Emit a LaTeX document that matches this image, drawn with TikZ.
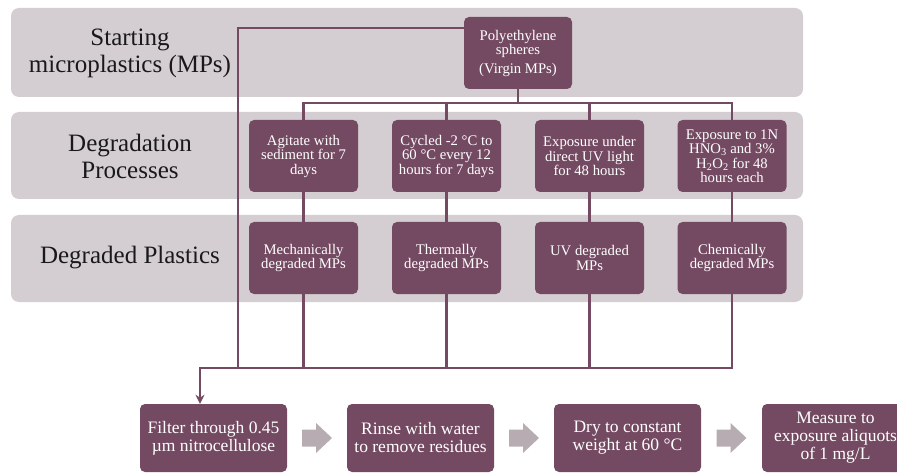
\documentclass[tikz,border=0pt]{standalone}
\usepackage{fontspec}
\setmainfont{Liberation Serif}
\usetikzlibrary{arrows.meta,calc}
\definecolor{plum}{HTML}{744A62}
\definecolor{bandgrey}{HTML}{D4CED2}
\definecolor{arrowgrey}{HTML}{B7ACB2}
\begin{document}
\begin{tikzpicture}[
    x=1pt, y=-1pt,
    band/.style={fill=bandgrey,rounded corners=8pt},
    rowlabel/.style={align=center,text=black!90,font=\fontsize{25}{27}\selectfont},
    box/.style={fill=plum,rounded corners=5pt,align=center,text=white,inner sep=2pt,
        minimum width=109pt,minimum height=72pt,font=\fontsize{14.7}{14.5}\selectfont},
    stepbox/.style={box,minimum width=147pt,minimum height=68pt,font=\fontsize{17.5}{18}\selectfont},
    link/.style={draw=plum,line width=2.2pt},
    >={Stealth[length=9pt,width=9pt]}
]
\useasboundingbox (0,0) rectangle (897,473);
\clip (0,0) rectangle (897,473);

% row bands
\fill[band] (11,8) rectangle (803,97);
\fill[band] (11,112) rectangle (803,199);
\fill[band] (11,215) rectangle (803,302);

\node[rowlabel] (lstart) at (130,53) {Starting\\microplastics (MPs)};
\node[rowlabel] (lproc) at (130,156) {Degradation\\Processes};
\node[rowlabel] (ldeg) at (130,258) {Degraded Plastics};

\node[box,minimum width=108pt] (pe) at (518,53) {Polyethylene\\spheres\\[4pt](Virgin MPs)};

\node[box] (agit) at (303.5,156) {Agitate with\\sediment for 7\\days};
\node[box] (cycle) at (446.5,156) {Cycled -2 °C to\\60 °C every 12\\hours for 7 days};
\node[box] (uvexp) at (589.5,156) {Exposure under\\direct UV light\\for 48 hours};
\node[box] (acid) at (732,156) {Exposure to 1N\\HNO\textsubscript{3} and 3\%\\H\textsubscript{2}O\textsubscript{2} for 48\\hours each};

\node[box] (mech) at (303.5,258) {Mechanically\\degraded MPs};
\node[box] (therm) at (446.5,258) {Thermally\\degraded MPs};
\node[box] (uv) at (589.5,258) {UV degraded\\MPs};
\node[box] (chem) at (732,258) {Chemically\\degraded MPs};

\node[stepbox] (filt) at (213.5,438) {Filter through 0.45\\µm nitrocellulose};
\node[stepbox] (rinse) at (420.5,438) {Rinse with water\\to remove residues};
\node[stepbox] (dry) at (627.5,438) {Dry to constant\\weight at 60 °C};
\node[stepbox] (meas) at (835.5,438) {Measure to\\exposure aliquots\\of 1 mg/L};

\coordinate (split) at (518,103);
\coordinate (bend) at (238,28);
\coordinate (hub) at (200,368);

% split to the four processes
\draw[link] (pe.south) -- (split);
\draw[link] (agit.north) |- (split) -| (acid.north);
\foreach \n in {cycle,uvexp}
    \draw[link] (split -| \n.north) -- (\n.north);
\foreach \a/\b in {agit/mech,cycle/therm,uvexp/uv,acid/chem}
    \draw[link] (\a.south) -- (\b.north);

% collect everything into the filter step
\draw[link] (bend -| pe.west) -- (bend) -- (bend |- hub);
\foreach \n in {mech,therm,uv}
    \draw[link] (\n.south) -- (\n.south |- hub);
\draw[link,->] (chem.south) |- (hub) -- (hub |- filt.north);

% grey block arrows
\foreach \a/\b in {filt/rinse,rinse/dry,dry/meas}
    \fill[arrowgrey] ($(\a.east)!0.5!(\b.west)$) ++(-15,-8.5) -- ++(14,0) -- ++(0,-6.5)
        -- ++(16,15) -- ++(-16,15) -- ++(0,-6.5) -- ++(-14,0) -- cycle;
\end{tikzpicture}
\end{document}
